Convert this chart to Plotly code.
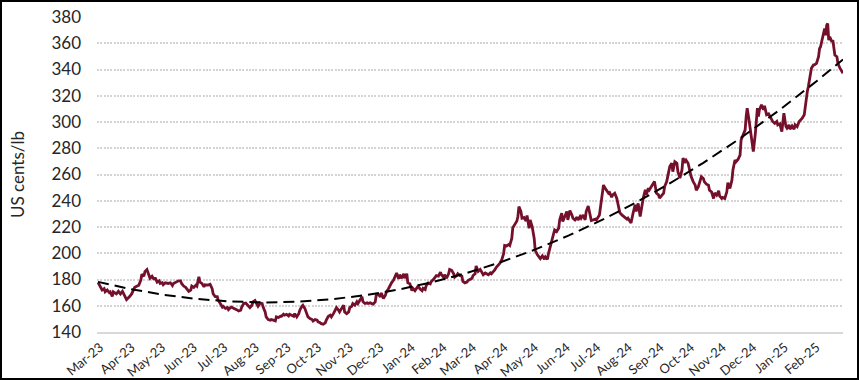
import numpy as np
import pandas as pd
import plotly.graph_objects as go

# Day offsets from 1 Mar 2023 and price values (US cents/lb)
day_offsets = [
    -2, 0, 2, 4, 5, 7, 9, 10, 12, 13, 16, 18, 20, 22, 24, 26, 29, 31, 34, 36,
    38, 40, 41, 43, 44, 46, 48, 49, 51, 53, 54, 56, 58, 59, 61, 62, 64, 67, 69, 71,
    72, 74, 77, 79, 80, 82, 84, 87, 89, 90, 92, 94, 95, 97, 98, 100, 102, 103, 106, 108,
    110, 111, 113, 115, 116, 118, 120, 121, 123, 125, 126, 128, 129, 131, 133, 134, 136, 138, 139, 141,
    143,
    147, 149, 150, 152, 154, 155, 157, 159, 160, 162, 163, 165, 167, 168, 170, 172, 173, 175, 177, 178,
    180, 181, 183, 185, 186, 188, 190, 191, 193, 195, 196, 198, 199, 201, 203, 204, 206, 208, 209, 211,
    213, 214, 216, 217, 219, 221, 222, 224, 226, 227, 229, 231, 232, 234, 235, 237, 239, 240, 242, 244,
    245, 247, 248, 250, 252, 253, 255, 257, 258, 260, 262, 263, 265, 266, 268, 270, 271, 273, 275, 276,
    278, 280, 281, 283, 284, 286, 288,
    289, 291, 293, 294, 296, 298, 299, 301, 302, 304, 306, 307, 309, 311, 312, 314, 316, 317, 319, 320,
    322, 324, 325, 327, 329, 330, 332, 334, 335, 337, 338, 340, 342, 343, 345, 347, 348, 350, 351, 353,
    355, 356, 358, 360, 361, 363, 365, 366, 368, 369, 371, 373, 374, 376, 378, 379, 381, 383, 384, 386,
    387, 389, 391, 392, 394, 396, 397, 399, 401, 402, 404, 405, 407, 409, 410, 411, 413, 414, 416, 418,
    419, 421, 422, 424, 426, 427, 429, 431, 432, 434, 436, 437, 439, 440,
    443, 445, 446, 448, 450, 451, 453, 454, 456, 458, 459, 461, 463, 464, 466, 468, 469, 471, 472, 474,
    476, 477, 479, 481, 482, 484, 486, 487, 489, 490, 492, 494, 495, 497, 499, 500, 502, 503, 505, 507,
    508, 510, 512, 513, 515, 517, 518, 520, 521, 523, 525, 526, 528, 530, 531, 533, 535, 536, 538, 539,
    541, 543, 544, 546, 548, 549, 551, 553, 554, 556, 557, 559, 561, 562, 564, 566, 567, 569, 571, 572,
    574, 575, 577, 579, 580, 582,
    584, 585, 587, 589, 590, 592, 593, 595, 597, 598, 600, 602, 603, 605, 607, 608, 610, 611, 613, 615,
    616, 618, 620, 621, 623, 624, 626, 628, 629, 631, 633, 634, 635, 637, 638, 639, 640, 641, 643, 644,
    645, 646, 647, 649, 651, 652, 654, 656, 657, 659, 660, 662, 664, 665, 667, 669, 670, 671, 673, 674,
    676, 677, 679, 681, 682, 684, 686, 687, 689, 691, 692, 693, 694,
    695, 696, 698, 700, 701, 703, 705, 706, 707, 708, 710, 711, 712, 713, 714, 715, 716, 718, 719, 721,
    723, 724, 726, 728, 729,
]

prices = [
    177.7, 175, 172, 173, 170.6, 172, 170, 170.6, 167, 170.6, 169, 171, 169, 171, 168, 164.7, 167, 169, 174, 175,
    175.7, 179.5, 184, 182.5, 186, 187.6, 183, 181, 182.5, 180, 181.5, 178, 179, 177, 177.5, 176, 177.5, 177, 177.5, 175.4,
    177, 178, 179, 179, 177, 175, 174, 171, 172, 175, 174, 175.7, 175, 182, 178, 177, 174.4, 176, 175.7, 176.4,
    173, 169, 167, 167, 164, 161.7, 159, 159.6, 158, 158.6, 157, 158.6, 159, 158, 157.6, 157, 156, 156.6, 159, 161.7,
    162,
    158.6, 160.4, 163, 164, 161.7, 159.6, 162, 161.7, 159, 155.3, 151.5, 149.5, 149, 149.5, 149, 148.4, 151.5, 151, 152, 152,
    153.5, 152.8, 153.5, 152.3, 153.5, 152.8, 152, 154, 151.5, 154, 156.6, 159.6, 160.4, 157.9, 154, 151.5, 150.2, 149.5, 148.4, 149.5,
    149, 147.7, 147, 146.4, 146, 147, 149, 152, 152.8, 151.5, 154, 157, 158.6, 156.6, 155.3, 158, 160.4, 155.3, 154, 155.3,
    158.6, 159.6, 161.7, 160.4, 163, 161.7, 164.2, 166.8, 163, 161.7, 162.2, 161.7, 162.2, 161.7, 161.2, 163, 168, 168.8, 166.8, 169.8,
    165.5, 168, 170.6, 173, 175, 177.5, 179.5,
    181.8, 185, 180.5, 183.6, 181, 184.4, 181, 184.4, 177.4, 176.7, 171.5, 173.3, 171.5, 174, 174.9, 172.8, 171.5, 173.3, 172.3, 175.4,
    177.4, 176.7, 178.5, 180, 181.8, 183, 182.6, 185.6, 183.6, 181.8, 183.6, 181, 184.4, 187.7, 187, 184.4, 181.8, 183, 184.4, 183,
    182.6, 178.5, 177.4, 178, 179.2, 180, 181, 183, 184.4, 190.3, 186.2, 187.7, 186.2, 183.6, 185, 184.4, 183.6, 185, 184.4, 186.2,
    187, 189.5, 190.8, 192, 194.6, 199.7, 206, 205.6, 206.7, 206, 211.3, 219.5, 222, 224.6, 228, 235.6, 231.8, 226.7, 227.2, 224.6,
    228.7, 219, 225.4, 220.3, 211.3, 202.3, 199, 197.2, 195.9, 198, 195.4, 197.2, 195.4, 199.7,
    210, 215.3, 217.8, 216.5, 219, 225.4, 230.5, 224.2, 228, 231.8, 225.4, 232.5, 229.2, 226.7, 225.4, 227.5, 225.4, 228, 226.7, 229.2,
    225.4, 231.8, 236, 229.2, 225, 225.4, 226, 225.4, 227.5, 229.2, 240.7, 252, 250.3, 248.3, 245.7, 246.2, 242.7, 244.5, 245.7, 242,
    238, 231, 229.2, 228.5, 227.5, 226, 226.7, 224.2, 223, 230.5, 236.9, 231.8, 238, 228, 233, 242, 248.3, 244.5, 249.5, 248.3,
    250.8, 253.3, 254.6, 245.7, 244.5, 242, 243.7, 245.7, 250.8, 254.6, 258.4, 266, 268.6, 262.2, 269.8, 268.6, 262.2, 257.2, 263.5, 272.4,
    269.8, 271, 268.6, 262.2, 258.4, 254.6,
    251.9, 248, 250.6, 255.7, 258.3, 257, 254.4, 252.6, 251.9, 248, 246.8, 241.7, 246, 244.2, 247.6, 243.5, 241.7, 242.5, 241.7, 246.8,
    253.7, 249.3, 255.7, 263.4, 271, 269.7, 271.5, 274.8, 286.3, 290.2, 294, 304.2, 310.6, 300.4, 294, 290.2, 281.2, 277.4, 291.4, 305.5,
    310.6, 304.2, 309.3, 313.1, 309.3, 312.3, 305.5, 306.2, 304.7, 301.6, 300.4, 299, 300.4, 297.8, 298.6, 292.7, 302.1, 306.7, 296.5, 295.3,
    297.8, 294.5, 297, 294.5, 297.8, 296.5, 300.4, 301.1, 302.9, 305.5, 313.1, 319.5, 323.3,
    327, 331, 341, 343.5, 343.5, 344.7, 349.8, 356, 357.3, 361, 368.7, 371.2, 366, 373.7, 375, 362.4, 364.9, 361.1, 362.4, 351,
    349.8, 344.7, 341, 338.4, 337.2,
]

y_ticks = [140, 160, 180, 200, 220, 240, 260, 280, 300, 320, 340, 360, 380]

start = pd.Timestamp("2023-03-01")
days = np.array(day_offsets, dtype=float)
dates = start + pd.to_timedelta(days, unit="D")

# Polynomial (order 2) trendline, as in the source chart
coef = np.polyfit(days, np.array(prices), 2)
trend_days = np.arange(days.min(), days.max() + 1)
trend_vals = np.polyval(coef, trend_days)
trend_dates = start + pd.to_timedelta(trend_days, unit="D")

fig = go.Figure()
fig.add_trace(go.Scatter(
    x=dates, y=prices, mode="lines",
    line=dict(color="#74102C", width=2.8),
    showlegend=False,
))
fig.add_trace(go.Scatter(
    x=trend_dates, y=trend_vals, mode="lines",
    line=dict(color="#000000", width=2, dash="11px,6px"),
    showlegend=False,
))

W, H = 859, 380
ml, mr, mt, mb = 97, 16, 17, 48
pw, ph = W - ml - mr, H - mt - mb

fig.update_layout(
    width=W, height=H,
    margin=dict(l=ml, r=mr, t=mt, b=mb, pad=0, autoexpand=False),
    paper_bgcolor="white", plot_bgcolor="white",
    font=dict(family="Lato, 'Open Sans', sans-serif", color="#333333"),
    xaxis=dict(
        type="date", automargin=False,
        range=[start - pd.Timedelta(days=3), start + pd.Timedelta(days=729)],
        tick0="2023-03-01", dtick="M1", tickformat="%b-%y",
        tickangle=-40, tickfont=dict(size=13, color="#262626"),
        showgrid=False, showline=True, linecolor="#d9d9d9", linewidth=1.5,
        ticks="", zeroline=False, ticklabelstandoff=1,
    ),
    yaxis=dict(
        range=[140, 380], tickvals=y_ticks, automargin=False,
        tickfont=dict(size=17, color="#262626"),
        showgrid=True, gridcolor="#d4d4d4", gridwidth=1.6, griddash="2px,1.3px",
        zeroline=False, showline=False, ticks="",
        ticklabelstandoff=15,
        title=dict(text="US cents/lb", font=dict(size=17, color="#262626"), standoff=22),
    ),
    shapes=[dict(
        type="rect", xref="paper", yref="paper",
        x0=-ml / pw + 1 / pw, x1=1 + (mr - 1) / pw,
        y0=-mb / ph + 1 / ph, y1=1 + (mt - 1) / ph,
        line=dict(color="black", width=2), fillcolor="rgba(0,0,0,0)",
        layer="above",
    )],
)

fig.write_html(
    "out.html",
    config={"displayModeBar": False},
    post_script="document.body.style.margin='0';document.body.style.padding='0';"
                "document.body.style.overflow='hidden';",
)
